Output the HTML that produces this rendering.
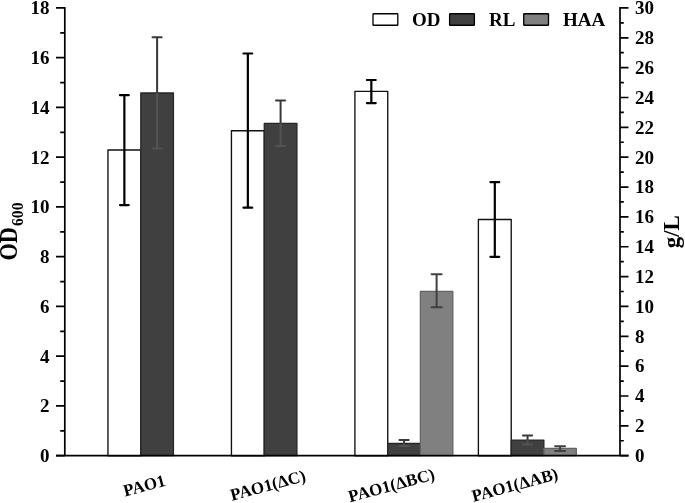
<!DOCTYPE html><html><head><meta charset="utf-8"><style>html,body{margin:0;padding:0;background:#fff;}svg{display:block;}text{font-family:"Liberation Serif",serif;font-weight:bold;}</style></head><body>
<svg width="685" height="503" viewBox="0 0 685 503">
<rect x="107.95" y="150.00" width="32.84" height="305.70" fill="#fff" stroke="#111" stroke-width="1.35" stroke-linejoin="round"/>
<rect x="140.79" y="93.00" width="32.64" height="362.70" fill="#404040" stroke="#262626" stroke-width="1.3" stroke-linejoin="round"/>
<rect x="231.43" y="130.70" width="32.84" height="325.00" fill="#fff" stroke="#111" stroke-width="1.35" stroke-linejoin="round"/>
<rect x="264.27" y="123.40" width="32.64" height="332.30" fill="#404040" stroke="#262626" stroke-width="1.3" stroke-linejoin="round"/>
<rect x="354.91" y="91.30" width="32.84" height="364.40" fill="#fff" stroke="#111" stroke-width="1.35" stroke-linejoin="round"/>
<rect x="387.75" y="443.50" width="32.64" height="12.20" fill="#404040" stroke="#262626" stroke-width="1.3" stroke-linejoin="round"/>
<rect x="420.39" y="291.30" width="32.44" height="164.40" fill="#808080" stroke="#646464" stroke-width="1.3" stroke-linejoin="round"/>
<rect x="478.39" y="219.50" width="32.84" height="236.20" fill="#fff" stroke="#111" stroke-width="1.35" stroke-linejoin="round"/>
<rect x="511.23" y="440.10" width="32.64" height="15.60" fill="#404040" stroke="#262626" stroke-width="1.3" stroke-linejoin="round"/>
<rect x="543.87" y="448.40" width="32.44" height="7.30" fill="#808080" stroke="#646464" stroke-width="1.3" stroke-linejoin="round"/>
<path d="M124.37 95.20V205.10M119.97 95.20H128.77M119.97 205.10H128.77" stroke="#000" stroke-width="2.2" stroke-linecap="round" fill="none"/>
<path d="M157.11 93.00V148.50M152.51 148.50H161.71" stroke="#535353" stroke-width="2" stroke-linecap="round" fill="none"/>
<path d="M157.11 37.30V92.40M152.51 37.30H161.71" stroke="#393939" stroke-width="2" stroke-linecap="round" fill="none"/>
<path d="M247.85 53.50V207.70M243.45 53.50H252.25M243.45 207.70H252.25" stroke="#000" stroke-width="2.2" stroke-linecap="round" fill="none"/>
<path d="M280.59 123.40V146.00M275.99 146.00H285.19" stroke="#535353" stroke-width="2" stroke-linecap="round" fill="none"/>
<path d="M280.59 100.50V122.80M275.99 100.50H285.19" stroke="#393939" stroke-width="2" stroke-linecap="round" fill="none"/>
<path d="M371.33 80.00V103.10M366.93 80.00H375.73M366.93 103.10H375.73" stroke="#000" stroke-width="2.2" stroke-linecap="round" fill="none"/>
<path d="M404.07 443.50V446.00M399.47 446.00H408.67" stroke="#535353" stroke-width="2" stroke-linecap="round" fill="none"/>
<path d="M404.07 440.00V442.90M399.47 440.00H408.67" stroke="#393939" stroke-width="2" stroke-linecap="round" fill="none"/>
<path d="M436.61 274.30V307.30M431.61 274.30H441.61M431.61 307.30H441.61" stroke="#404040" stroke-width="2" stroke-linecap="round" fill="none"/>
<path d="M494.81 182.20V256.80M490.41 182.20H499.21M490.41 256.80H499.21" stroke="#000" stroke-width="2.2" stroke-linecap="round" fill="none"/>
<path d="M527.55 440.10V444.50M522.95 444.50H532.15" stroke="#535353" stroke-width="2" stroke-linecap="round" fill="none"/>
<path d="M527.55 435.40V439.50M522.95 435.40H532.15" stroke="#393939" stroke-width="2" stroke-linecap="round" fill="none"/>
<path d="M560.09 446.20V451.00M555.09 446.20H565.09M555.09 451.00H565.09" stroke="#404040" stroke-width="2" stroke-linecap="round" fill="none"/>
<path d="M64.8 7.05V455.7M56 455.7H628.5M620.0 7.05V455.7" stroke="#000" stroke-width="1.7" fill="none"/>
<path d="M56 455.70H64.8M60.2 430.82H64.8M56 405.95H64.8M60.2 381.07H64.8M56 356.20H64.8M60.2 331.32H64.8M56 306.45H64.8M60.2 281.57H64.8M56 256.70H64.8M60.2 231.82H64.8M56 206.95H64.8M60.2 182.07H64.8M56 157.20H64.8M60.2 132.32H64.8M56 107.45H64.8M60.2 82.57H64.8M56 57.70H64.8M60.2 32.82H64.8M56 7.95H64.8" stroke="#000" stroke-width="1.7" fill="none"/>
<path d="M620.0 455.70H628.5M620.0 440.77H623.8M620.0 425.85H628.5M620.0 410.92H623.8M620.0 396.00H628.5M620.0 381.07H623.8M620.0 366.15H628.5M620.0 351.22H623.8M620.0 336.30H628.5M620.0 321.38H623.8M620.0 306.45H628.5M620.0 291.52H623.8M620.0 276.60H628.5M620.0 261.67H623.8M620.0 246.75H628.5M620.0 231.82H623.8M620.0 216.90H628.5M620.0 201.97H623.8M620.0 187.05H628.5M620.0 172.12H623.8M620.0 157.20H628.5M620.0 142.27H623.8M620.0 127.35H628.5M620.0 112.42H623.8M620.0 97.50H628.5M620.0 82.57H623.8M620.0 67.65H628.5M620.0 52.72H623.8M620.0 37.80H628.5M620.0 22.87H623.8M620.0 7.95H628.5" stroke="#000" stroke-width="1.7" fill="none"/>
<text x="49.5" y="462.00" font-size="19" text-anchor="end">0</text>
<text x="49.5" y="412.25" font-size="19" text-anchor="end">2</text>
<text x="49.5" y="362.50" font-size="19" text-anchor="end">4</text>
<text x="49.5" y="312.75" font-size="19" text-anchor="end">6</text>
<text x="49.5" y="263.00" font-size="19" text-anchor="end">8</text>
<text x="49.5" y="213.25" font-size="19" text-anchor="end">10</text>
<text x="49.5" y="163.50" font-size="19" text-anchor="end">12</text>
<text x="49.5" y="113.75" font-size="19" text-anchor="end">14</text>
<text x="49.5" y="64.00" font-size="19" text-anchor="end">16</text>
<text x="49.5" y="14.25" font-size="19" text-anchor="end">18</text>
<text x="635" y="462.00" font-size="19">0</text>
<text x="635" y="432.15" font-size="19">2</text>
<text x="635" y="402.30" font-size="19">4</text>
<text x="635" y="372.45" font-size="19">6</text>
<text x="635" y="342.60" font-size="19">8</text>
<text x="635" y="312.75" font-size="19">10</text>
<text x="635" y="282.90" font-size="19">12</text>
<text x="635" y="253.05" font-size="19">14</text>
<text x="635" y="223.20" font-size="19">16</text>
<text x="635" y="193.35" font-size="19">18</text>
<text x="635" y="163.50" font-size="19">20</text>
<text x="635" y="133.65" font-size="19">22</text>
<text x="635" y="103.80" font-size="19">24</text>
<text x="635" y="73.95" font-size="19">26</text>
<text x="635" y="44.10" font-size="19">28</text>
<text x="635" y="14.25" font-size="19">30</text>
<text transform="translate(17.0,260.6) rotate(-90) scale(0.92,1)" font-size="24.3">OD</text>
<text transform="translate(22.7,226.0) rotate(-90) scale(0.95,1)" font-size="16.5">600</text>
<text transform="translate(678.9,248.3) rotate(-90)" font-size="23">g/L</text>
<rect x="373.0" y="13.75" width="24.8" height="11.5" rx="0.6" fill="#fff" stroke="#000" stroke-width="1.3"/>
<text x="412" y="26" font-size="19">OD</text>
<rect x="449.6" y="13.75" width="24.8" height="11.5" rx="0.6" fill="#404040" stroke="#000" stroke-width="1.3"/>
<text x="489" y="26" font-size="19">RL</text>
<rect x="523.7" y="13.75" width="24.8" height="11.5" rx="0.6" fill="#808080" stroke="#000" stroke-width="1.3"/>
<text x="563" y="26" font-size="19">HAA</text>
<text transform="translate(144.3,485.7) rotate(-15)" font-size="17" text-anchor="middle" dy="5.5">PAO1</text>
<text transform="translate(267.9,485.4) rotate(-15)" font-size="17" text-anchor="middle" dy="5.5">PAO1(ΔC)</text>
<text transform="translate(391.5,485.4) rotate(-15)" font-size="17" text-anchor="middle" dy="5.5">PAO1(ΔBC)</text>
<text transform="translate(514.8,485.0) rotate(-15)" font-size="17" text-anchor="middle" dy="5.5">PAO1(ΔAB)</text>
</svg></body></html>
